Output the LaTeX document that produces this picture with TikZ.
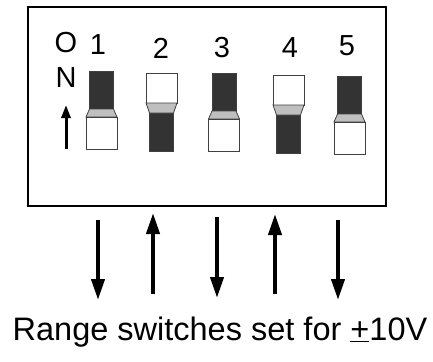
\documentclass[tikz,border=0pt]{standalone}
\usepackage{fontspec}
\setmainfont{Liberation Sans}
\usetikzlibrary{arrows.meta}

\tikzset{
  dippart/.style={draw=black!75,line width=0.8pt},
  darkpart/.style={dippart,fill=black!80},
  neckpart/.style={dippart,fill=black!25},
  lightpart/.style={dippart,fill=white},
  digit/.style={inner sep=0pt,font=\fontsize{29}{34}\selectfont},
  bigarrow/.style={line width=4pt,-{Triangle[length=21pt,width=13pt]}},
  onarrow/.style={line width=3pt,-{Triangle[length=13pt,width=9pt]}}
}

\begin{document}
\begin{tikzpicture}[x=1pt,y=-1pt]
\useasboundingbox (0,0) rectangle (433,361);
% switch housing
\draw[line width=2pt] (28,7) rectangle (386,206);
% ON marking
\node[digit] (o) at (66,43) {O};
\node[digit] (n) at (66,78) {N};
\coordinate (onb) at (66,149);
\coordinate (ont) at (66,105);
\draw[onarrow] (onb) -- (ont);
% the five switches: number, centre, top, up (1) or down (0)
\foreach \i/\cx/\nx/\ny/\t/\up in {1/101.5/98/45/71/1, 2/161.5/161/48/73/0, 3/224/222/48/73/1,
                                    4/288.5/290/48/75/0, 5/349.5/347/46/76/1}{
  \node[digit] (num\i) at (\nx,\ny) {\i};
  \ifnum\up=1
    \draw[darkpart] (\cx-12,\t) rectangle (\cx+12,\t+38);
    \draw[neckpart] (\cx-12,\t+38) -- (\cx+12,\t+38) -- (\cx+15.5,\t+46)
      -- (\cx-15.5,\t+46) -- cycle;
    \draw[lightpart] (\cx-15.5,\t+46) rectangle (\cx+15.5,\t+78);
  \else
    \draw[lightpart] (\cx-15.5,\t) rectangle (\cx+15.5,\t+30);
    \draw[neckpart] (\cx-15.5,\t+30) -- (\cx+15.5,\t+30) -- (\cx+12,\t+40)
      -- (\cx-12,\t+40) -- cycle;
    \draw[darkpart] (\cx-12,\t+40) rectangle (\cx+12,\t+78);
  \fi
}
% range arrows
\coordinate (a1s) at (98,220);  \coordinate (a1e) at (98,300);
\coordinate (a2s) at (153,294); \coordinate (a2e) at (153,213);
\coordinate (a3s) at (217,217); \coordinate (a3e) at (217,298);
\coordinate (a4s) at (275,294); \coordinate (a4e) at (275,214);
\coordinate (a5s) at (338,220); \coordinate (a5e) at (338,300);
\foreach \k in {1,...,5}
  \draw[bigarrow] (a\k s) -- (a\k e);
% caption
\node[inner sep=0pt,anchor=base,font=\fontsize{32.5}{38}\selectfont] (caption) at (220,340)
  {Range switches set for \underline{+}10V};
\end{tikzpicture}
\end{document}
